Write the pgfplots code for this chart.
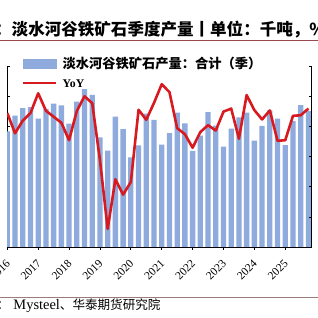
\documentclass[border=0pt]{standalone}
\usepackage{fontspec}
\setmainfont{Liberation Serif}
\newfontfamily\cjk{Noto Sans CJK SC}
\usepackage{pgfplots}
\usepackage{pgfplotstable}
\pgfplotsset{compat=1.18}
\definecolor{barblue}{HTML}{8FAADC}
\definecolor{yoyred}{HTML}{D71920}
\definecolor{rulered}{HTML}{9C4A50}
\definecolor{rulebrown}{HTML}{9A7C7A}

\pgfplotstableread{
k prod yoy
0 76800 4.5
1 87300 -2.2
2 92300 2.0
3 93000 4.5
4 85300 11.1
5 91800 5.3
6 95300 3.3
7 94200 1.3
8 82000 -4.5
9 96700 5.2
10 104900 10.1
11 101100 7.8
12 72900 -11.1
13 64000 -34.0
14 86700 -17.5
15 78300 -22.6
16 59600 -18.4
17 67600 5.6
18 88700 2.3
19 84500 7.9
20 68000 14.1
21 75700 11.5
22 89400 -0.5
23 82200 -2.5
24 63900 -7.0
25 74100 -1.8
26 89700 0.5
27 80700 -1.3
28 66800 5.0
29 78700 6.0
30 86200 -4.0
31 89400 10.5
32 70800 5.5
33 80600 2.4
34 90900 5.4
35 85300 -4.7
36 67700 -4.5
37 83600 3.6
38 94400 3.8
39 90400 6.0
}\datatable

\begin{document}
\begin{tikzpicture}
\useasboundingbox (0bp,0bp) rectangle (318bp,318bp);
\clip (0bp,0bp) rectangle (318bp,318bp);
\node[anchor=base west, inner sep=0pt, font=\cjk\bfseries\fontsize{16.6}{16.6}\selectfont] at (-5bp, 282.8bp) {：淡水河谷铁矿石季度产量丨单位：千吨，\%};
\draw[rulered, line width=1.6bp] (0bp,277.3bp) -- (318bp,277.3bp);
\draw[rulebrown, line width=1.6bp] (0bp,20.3bp) -- (318bp,20.3bp);
\node[anchor=base west, inner sep=0pt] at (-3.3bp,8.5bp) {{\cjk\fontsize{12.6}{12.6}\selectfont ：}\hspace{4bp}{\fontsize{14.5}{14.5}\selectfont Mysteel}{\cjk\fontsize{12.6}{12.6}\selectfont 、华泰期货研究院}};

\begin{axis}[
  at={(7bp,71bp)}, anchor=south west, scale only axis,
  width=304.5bp, height=180.5bp,
  xmin=-0.04, xmax=39.4, ymin=0, ymax=120000,
  scaled y ticks=false,
  axis x line*=bottom, axis y line*=left,
  axis line style={-, black, line width=0.9bp},
  ytick={0,20000,...,120000}, yticklabels={},
  xtick={0,4,...,36},
  xticklabels={2016,2017,2018,2019,2020,2021,2022,2023,2024,2025},
  tick align=inside, major tick length=3bp,
  tick style={black, line width=0.8bp},
  xticklabel style={xshift=-2bp, yshift=-9bp, rotate=45, anchor=north east, inner sep=0pt, font=\fontsize{11.5}{11.5}\selectfont},
  ybar, bar width=5.3bp, bar shift=0pt,
]
\addplot[fill=barblue, draw=none] table[x=k,y=prod]{\datatable};
\end{axis}

\begin{axis}[
  at={(7bp,71bp)}, anchor=south west, scale only axis,
  width=304.5bp, height=180.5bp,
  xmin=-0.04, xmax=39.4, ymin=-40, ymax=20,
  axis x line=none, axis y line*=right,
  axis line style={-, black, line width=0.9bp},
  ytick={-40,-30,...,20}, yticklabels={},
  tick align=inside, major tick length=3bp,
  tick style={black, line width=0.8bp},
  legend style={at={(axis description cs:0.049,1.055)}, anchor=north west, draw=none, fill=none,
    inner sep=0pt, row sep=10bp, column sep=5bp,
    nodes={inner sep=0pt, anchor=base west}},
]
\addlegendimage{legend image code/.code={\fill[barblue] (0bp,0.3bp) rectangle (33bp,9.3bp);}}
\addlegendentry{\cjk\bfseries\fontsize{13.3}{13.3}\selectfont 淡水河谷铁矿石产量：合计（季）}
\addplot[yoyred, line width=2.6bp, line join=round, mark=none,
  legend image code/.code={\draw[yoyred, line width=2.6bp] (0bp,4.4bp) -- (33bp,4.4bp);}]
  table[x=k,y=yoy]{\datatable};
\addlegendentry{\bfseries\fontsize{11.8}{11.8}\selectfont YoY}
\end{axis}
\end{tikzpicture}
\end{document}
